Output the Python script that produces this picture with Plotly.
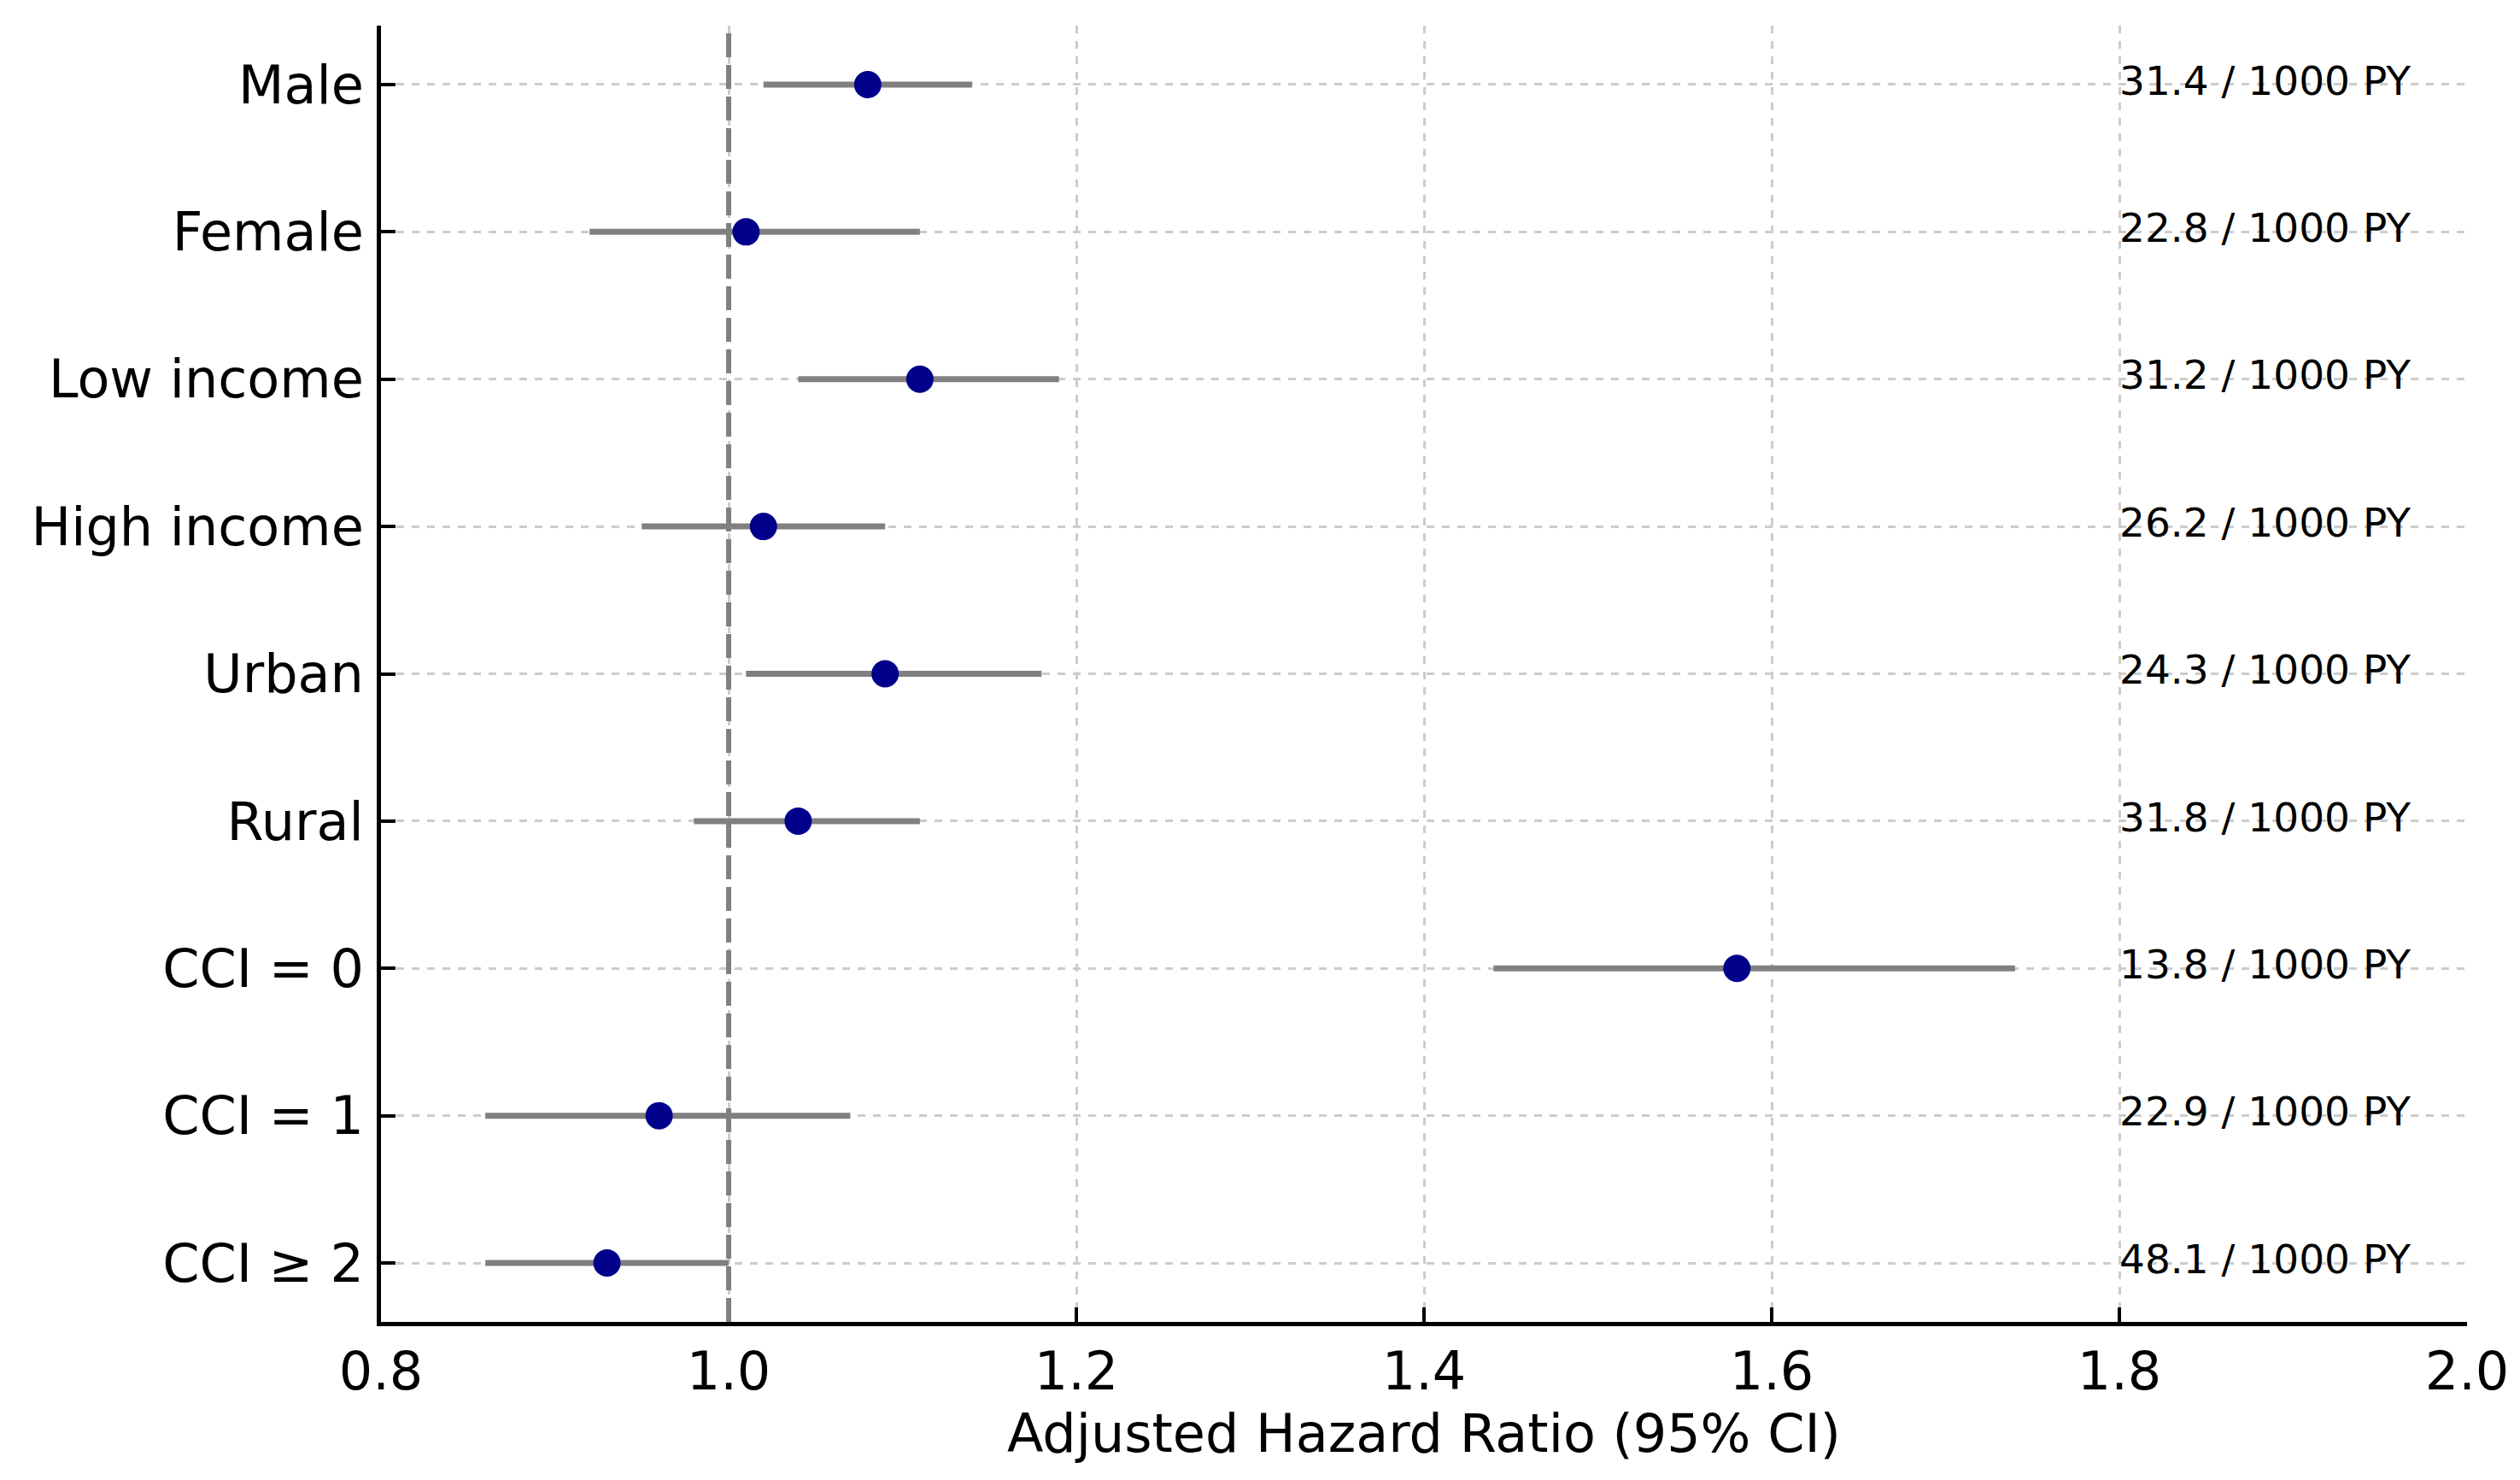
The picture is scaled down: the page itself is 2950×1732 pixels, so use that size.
import plotly.graph_objects as go

categories = ["Male", "Female", "Low income", "High income", "Urban", "Rural",
              "CCI = 0", "CCI = 1", "CCI ≥ 2"]
hr = [1.08, 1.01, 1.11, 1.02, 1.09, 1.04, 1.58, 0.96, 0.93]
ci_low = [1.02, 0.92, 1.04, 0.95, 1.01, 0.98, 1.44, 0.86, 0.86]
ci_high = [1.14, 1.11, 1.19, 1.09, 1.18, 1.11, 1.74, 1.07, 1.00]
rates = [31.4, 22.8, 31.2, 26.2, 24.3, 31.8, 13.8, 22.9, 48.1]
rate_x = 1.8
x_ticks = [0.8, 1.0, 1.2, 1.4, 1.6, 1.8, 2.0]

FONT = "DejaVu Sans"
fig = go.Figure()

# CI lines
for c, lo, hi in zip(categories, ci_low, ci_high):
    fig.add_trace(go.Scatter(x=[lo, hi], y=[c, c], mode="lines",
                             line=dict(color="#808080", width=7),
                             showlegend=False, hoverinfo="skip"))

fig.add_vline(x=1.0, line=dict(color="#808080", width=6, dash="28px,9px"))

# point estimates
fig.add_trace(go.Scatter(x=hr, y=categories, mode="markers",
                         marker=dict(color="#00008b", size=32),
                         showlegend=False))

# rate labels
fig.add_trace(go.Scatter(x=[rate_x] * len(categories), y=categories, mode="text",
                         text=[f"{r:.1f} / 1000 PY" for r in rates],
                         textposition="middle right",
                         textfont=dict(family=FONT, size=47, color="black"),
                         showlegend=False, hoverinfo="skip"))

fig.update_layout(
    width=2942, height=1724,
    margin=dict(l=438, r=62, t=22, b=185),
    plot_bgcolor="white", paper_bgcolor="white",
    font=dict(family=FONT, size=62, color="black"),
)
fig.update_xaxes(
    range=[0.8, 2.0], tickvals=x_ticks, ticktext=[f"{v:.1f}" for v in x_ticks],
    showgrid=True, gridcolor="#cccccc", gridwidth=2.5, griddash="dash",
    showline=True, linecolor="black", linewidth=4.5, mirror=False,
    ticks="inside", ticklen=17, tickwidth=4, tickcolor="black",
    zeroline=False,
    title=dict(text="Adjusted Hazard Ratio (95% CI)", standoff=13,
               font=dict(family=FONT, size=62)),
    tickfont=dict(family=FONT, size=62),
)
fig.update_yaxes(
    categoryorder="array", categoryarray=list(reversed(categories)),
    range=[-0.4, 8.4],
    showgrid=True, gridcolor="#cccccc", gridwidth=2.5, griddash="dash",
    showline=True, linecolor="black", linewidth=4.5,
    ticks="inside", ticklen=17, tickwidth=4, tickcolor="black",
    ticklabelstandoff=3,
    zeroline=False,
    tickfont=dict(family=FONT, size=62),
)

fig.write_html("out.html")
